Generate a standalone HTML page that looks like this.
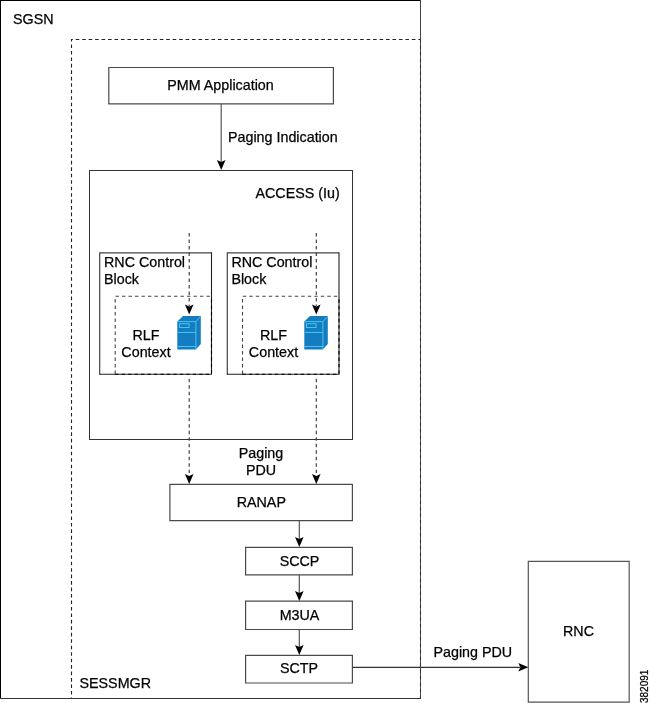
<!DOCTYPE html>
<html><head><meta charset="utf-8">
<style>
html,body{margin:0;padding:0;background:#fff;width:650px;height:703px;overflow:hidden}
svg{display:block;position:absolute;left:0;top:0;will-change:transform}
text{font-family:"Liberation Sans",sans-serif;font-size:14.3px;fill:#000;stroke:#000;stroke-width:0.25px}
</style></head><body>
<svg width="650" height="703" viewBox="0 0 650 703">
<defs>
<path id="ah" d="M0 0 L-4.3 -10 L0 -7.9 L4.3 -10 Z" fill="#000"/>
<g id="srv">
  <path d="M0 5.5 L5.7 0 L23.5 0 L23.5 28 L18.5 33.5 L0 33.5 Z" fill="#137dc0"/>
  <g fill="none" stroke="#55d6ff" stroke-width="0.8">
    <path d="M0.4 5.6 L18.6 5.6 L18.6 33.3"/>
    <path d="M18.6 5.6 L23.3 0.4"/>
    <path d="M0.4 16.4 L18.6 16.4"/>
    <path d="M0.4 30.5 L18.6 30.5"/>
    <rect x="2.2" y="7.8" width="9.6" height="3.6"/>
  </g>
</g>
</defs>
<g fill="none">
  <!-- SGSN outer -->
  <g stroke="#000" shape-rendering="crispEdges">
    <path d="M0 0.5 H420.5"/>
    <path d="M0.5 0 V699"/>
  </g>
  <path d="M420.5 0 V39" stroke="#444" shape-rendering="crispEdges"/>
  <path d="M420.5 39 V699" stroke="#555" shape-rendering="crispEdges"/>
  <path d="M0 698.5 H421" stroke="#333" shape-rendering="crispEdges"/>
  <!-- SESSMGR dashed -->
  <path d="M71 39.5 H420" stroke="#222" stroke-width="1.1" stroke-dasharray="3.6 2.865" stroke-dashoffset="1.77"/>
  <path d="M71.5 39 V698" stroke="#222" stroke-width="1.1" stroke-dasharray="3.6 2.865" stroke-dashoffset="1.0"/>
  <path d="M420.5 39 V698" stroke="#333" stroke-width="1.1" stroke-dasharray="3.6 2.9"/>
  <!-- PMM -->
  <g stroke="#4a4a4a" stroke-width="1.2">
    <path d="M108.8 67.5 H333.4 V103.9 H108.8 Z"/>
  </g>
  <!-- ACCESS -->
  <rect x="89.5" y="170.5" width="263" height="269" stroke="#333" shape-rendering="crispEdges"/>
  <!-- RNC control blocks -->
  <g stroke="#444" stroke-width="1.2">
    <path d="M99.7 252.8 H211.6 M99.7 252.2 V374.4"/>
    <path d="M227.3 252.8 H338.9 M227.3 252.2 V374.4"/>
  </g>
  <g stroke="#222" stroke-width="1.1">
    <path d="M211.5 252.2 V374.4 M99.2 374.3 H212"/>
    <path d="M339 252.2 V374.4 M226.8 374.3 H339.5"/>
  </g>
  <!-- inner dashed -->
  <g stroke="#444" stroke-width="1.1" stroke-dasharray="3.4 3.1">
    <path d="M115.2 374 V296.3 H211.6"/>
    <path d="M242.5 374 V296.3 H338.9"/>
  </g>
  <g stroke="#000" stroke-width="1.1" stroke-dasharray="3.4 3.06">
    <path d="M115.2 374.2 H211.5 V296.3"/>
    <path d="M242.5 374.2 H339 V296.3"/>
  </g>
  <!-- RANAP etc -->
  <g stroke="#4a4a4a" stroke-width="1.2">
    <path d="M169.9 484.4 H352.4 V520.6 H169.9 Z"/>
    <path d="M245.6 547.3 H352.4 V574.9 H245.6 Z"/>
    <path d="M245.6 601.1 H352.4 V629.5 H245.6 Z"/>
    <path d="M245.6 655.3 H352.4 V683 H245.6 Z"/>
  </g>
  <!-- RNC -->
  <path d="M528.3 561.4 H629.2 V702.2 H528.3 Z" stroke="#555" stroke-width="1.2"/>
  <!-- solid arrow lines -->
  <g stroke="#555" stroke-width="1.2">
    <path d="M221.2 104 V162"/>
    <path d="M299.3 521 V539"/>
    <path d="M299.3 575 V593"/>
    <path d="M299.3 629.5 V647"/>
  </g>
  <path d="M352.5 667.4 H520" stroke="#333" stroke-width="1.2"/>
  <!-- dashed vertical arrows -->
  <g stroke="#333" stroke-width="1.1" stroke-dasharray="3.4 3.1">
    <path d="M189.2 233 V306"/>
    <path d="M189.2 378.8 V473"/>
    <path d="M316.3 233 V306"/>
    <path d="M316.3 378.8 V473"/>
  </g>
</g>
<!-- arrowheads -->
<use href="#ah" x="221.2" y="170"/>
<use href="#ah" x="299.3" y="547"/>
<use href="#ah" x="299.3" y="601"/>
<use href="#ah" x="299.3" y="655"/>
<use href="#ah" x="189.2" y="314.5"/>
<use href="#ah" x="316.3" y="314.5"/>
<use href="#ah" x="189.2" y="484"/>
<use href="#ah" x="316.3" y="484"/>
<use href="#ah" transform="translate(528.3 667.3) rotate(-90)"/>
<!-- servers -->
<use href="#srv" x="177.3" y="316"/>
<use href="#srv" x="304.3" y="316"/>
<!-- text -->
<text x="13" y="23.6">SGSN</text>
<text x="79.5" y="687.6">SESSMGR</text>
<text x="220.5" y="90.4" text-anchor="middle">PMM Application</text>
<text x="228" y="141.6">Paging Indication</text>
<text x="255.5" y="198">ACCESS (Iu)</text>
<text x="104" y="266.8">RNC Control</text>
<text x="104" y="283.8">Block</text>
<text x="231.4" y="266.8">RNC Control</text>
<text x="231.4" y="283.8">Block</text>
<text x="146" y="339.5" text-anchor="middle">RLF</text>
<text x="146" y="356.5" text-anchor="middle">Context</text>
<text x="273.5" y="339.5" text-anchor="middle">RLF</text>
<text x="273.5" y="356.5" text-anchor="middle">Context</text>
<text x="261" y="457.5" text-anchor="middle">Paging</text>
<text x="261" y="474.9" text-anchor="middle">PDU</text>
<text x="261.3" y="506.9" text-anchor="middle">RANAP</text>
<text x="299.5" y="565.8" text-anchor="middle">SCCP</text>
<text x="299.5" y="619.6" text-anchor="middle">M3UA</text>
<text x="299" y="673.1" text-anchor="middle">SCTP</text>
<text x="433.5" y="656.7">Paging PDU</text>
<text x="578.5" y="636.2" text-anchor="middle">RNC</text>
<text transform="translate(648.3 703) rotate(-90)" style="font-size:10px">382091</text>
</svg>
</body></html>
